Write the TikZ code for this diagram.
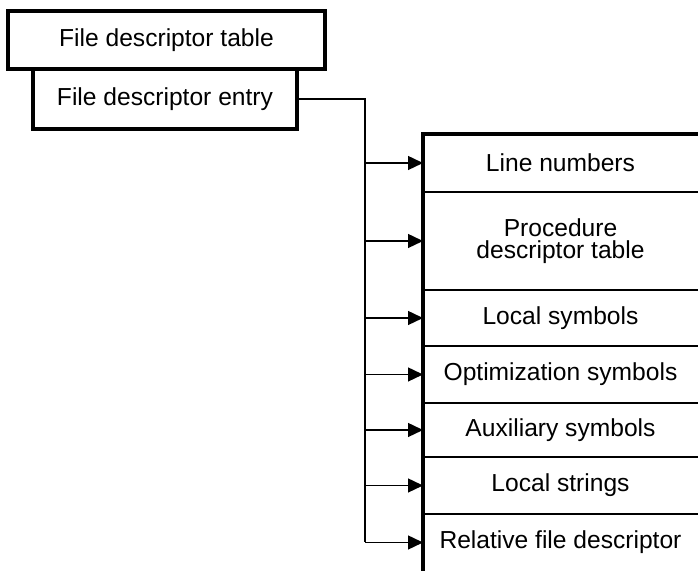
\documentclass[tikz,border=0pt]{standalone}
\usepackage{fontspec}
\setmainfont{Liberation Sans}
\usetikzlibrary{arrows.meta, positioning}
\begin{document}
\begin{tikzpicture}[
    x=0.5pt, y=-0.5pt,
    node distance=0pt,
    every node/.style={font=\fontsize{12.3}{11}\selectfont, inner sep=0pt, outer sep=0pt},
    hdrbox/.style={rectangle, draw, line width=1.75pt, align=center},
    field/.style={rectangle, minimum width=137.5pt, align=center},
    edge/.style={line width=1.6pt},
    sep/.style={line width=0.8pt},
    wire/.style={line width=0.7pt},
    arr/.style={wire, -{Triangle[length=7.5pt, width=7pt]}},
]
    \useasboundingbox (0,0) rectangle (698,571);

    \node[hdrbox, minimum width=158.5pt, minimum height=29pt] (fdt) at (166.5,40) {File descriptor table};
    \node[hdrbox, minimum width=132pt, minimum height=30pt] (fde) at (165,99) {File descriptor entry};

    \node[field, minimum height=29pt] (lines) at (560.5,163) {Line numbers};
    \node[field, minimum height=49pt, below=of lines]    (proc)    {Procedure\\descriptor table};
    \node[field, minimum height=28pt, below=of proc]     (locsym)  {Local symbols};
    \node[field, minimum height=28.5pt, below=of locsym] (optsym)  {Optimization symbols};
    \node[field, minimum height=27pt, below=of optsym]   (auxsym)  {Auxiliary symbols};
    \node[field, minimum height=28.5pt, below=of auxsym] (locstr)  {Local strings};
    \node[field, minimum height=28.5pt, below=of locstr] (reldesc) {Relative file descriptor};

    \foreach \r in {lines,proc,locsym,optsym,auxsym,locstr}
        \draw[sep] (\r.south west) -- (\r.south east);
    \draw[edge] (lines.north east) -- (lines.north west) -- (reldesc.south west);

    \coordinate (bus) at (365,99);
    \draw[wire] (fde.east) -- (bus) -- (bus |- reldesc.west);
    \foreach \r in {lines,proc,locsym,optsym,auxsym,locstr,reldesc}
        \draw[arr] (bus |- \r.west) -- (\r.west);
\end{tikzpicture}
\end{document}
